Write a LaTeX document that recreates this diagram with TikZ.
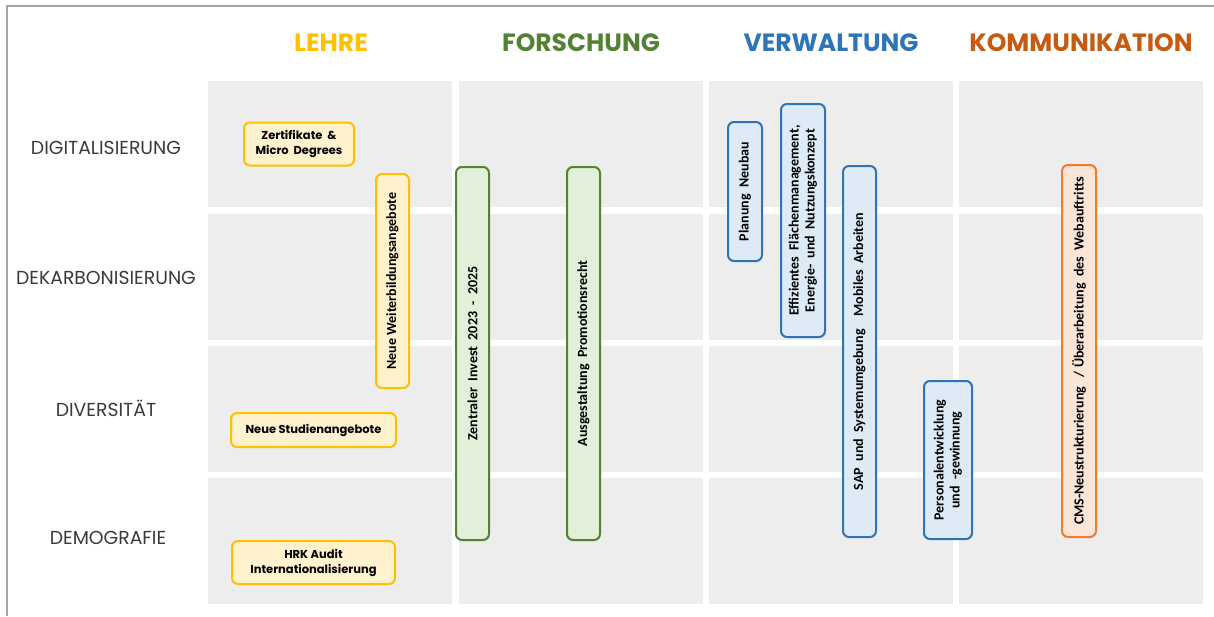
\documentclass[tikz,border=0pt]{standalone}
\usepackage{fontspec}
\setmainfont{Poppins}
\newfontfamily\boxfont{Carlito}
\begin{document}
\begin{tikzpicture}[x=1pt,y=-1pt,
  cell/.style={fill=cellgray,draw=none},
  rowlabel/.style={text=labelgray,font=\fontsize{18.8}{20}\selectfont,inner sep=0pt},
  colhead/.style={font=\fontsize{25}{27}\selectfont\bfseries,inner sep=0pt},
  itembox/.style={rounded corners=6pt,line width=2pt,inner sep=0pt,align=center,text=black},
  lehrebox/.style={itembox,draw=lehreC,fill=lehreF,font=\fontsize{11.5}{15}\selectfont\bfseries},
  vbox/.style={itembox,rotate=90,font=\boxfont\fontsize{14}{16}\selectfont\bfseries},
  forbox/.style={vbox,draw=forC,fill=forF},
  verbox/.style={vbox,draw=verC,fill=verF},
  kombox/.style={vbox,draw=komC,fill=komF}]
\definecolor{cellgray}{HTML}{EDEDED}
\definecolor{labelgray}{HTML}{3A3A3A}
\definecolor{framegray}{HTML}{A6A6A6}
\definecolor{lehreC}{HTML}{FFC000}
\definecolor{lehreF}{HTML}{FFF2CC}
\definecolor{forC}{HTML}{548235}
\definecolor{forF}{HTML}{E2F0D9}
\definecolor{verC}{HTML}{2E75B6}
\definecolor{verF}{HTML}{DEEBF7}
\definecolor{komC}{HTML}{ED7D31}
\definecolor{komF}{HTML}{FBE5D6}
\definecolor{komT}{HTML}{C55A11}

\useasboundingbox (0,0) rectangle (1214,616);
\fill[white] (0,0) rectangle (1214,616);
\draw[framegray,line width=2pt] (7,616) -- (7,6) -- (1214,6);

% grid of cells: 4 columns x 4 rows
\foreach \cx in {208,459,709,959}{
  \foreach \ry in {81,214,346,478}{
    \fill[cellgray] (\cx,\ry) rectangle ++(244,126);
  }
}

% column headings
\node[colhead,text=lehreC] (hLehre) at (331,43) {LEHRE};
\node[colhead,text=forC] (hForschung) at (581,43) {FORSCHUNG};
\node[colhead,text=verC] (hVerwaltung) at (831,43) {VERWALTUNG};
\node[colhead,text=komT] (hKomm) at (1081,43) {KOMMUNIKATION};

% row headings
\node[rowlabel] (rDig) at (106,148) {DIGITALISIERUNG};
\node[rowlabel] (rDek) at (106,278) {DEKARBONISIERUNG};
\node[rowlabel] (rDiv) at (106,408) {DIVERSITÄT};
\node[rowlabel] (rDem) at (108,538) {DEMOGRAFIE};

% Lehre
\node[lehrebox,minimum width=110pt,minimum height=43pt] (zert) at (299,144) {Zertifikate~~\&\\Micro~~Degrees};
\node[lehrebox,rotate=90,minimum width=214pt,minimum height=33pt,font=\boxfont\fontsize{14}{16}\selectfont\bfseries] (weiter) at (392.5,281) {Neue Weiterbildungsangebote};
\node[lehrebox,minimum width=165pt,minimum height=34pt] (studien) at (313.5,430) {Neue Studienangebote};
\node[lehrebox,minimum width=163pt,minimum height=43pt] (hrk) at (313.5,562.5) {HRK Audit\\Internationalisierung};

% Forschung
\node[forbox,minimum width=373pt,minimum height=33pt] (invest) at (472.5,353.5) {Zentraler~~Invest~~2023~~-~~2025};
\node[forbox,minimum width=373pt,minimum height=33pt] (promo) at (583.5,353.5) {Ausgestaltung~~Promotionsrecht};

% Verwaltung
\node[verbox,minimum width=139pt,minimum height=34pt] (neubau) at (745,191.5) {Planung~~Neubau};
\node[verbox,minimum width=233pt,minimum height=44pt] (flaeche) at (803,220.5) {Effizientes~~Flächenmanagement,\\Energie-~~und~~Nutzungskonzept};
\node[verbox,minimum width=371pt,minimum height=33pt] (sap) at (859.5,351.5) {SAP~~und~~Systemumgebung~~~~Mobiles~~Arbeiten};
\node[verbox,minimum width=158pt,minimum height=48pt] (personal) at (948,460) {Personalentwicklung\\und~~-gewinnung};

% Kommunikation
\node[kombox,minimum width=372pt,minimum height=34pt] (cms) at (1079,351) {CMS-Neustrukturierung~~~/~Überarbeitung~~des~~Webauftritts};
\end{tikzpicture}
\end{document}
